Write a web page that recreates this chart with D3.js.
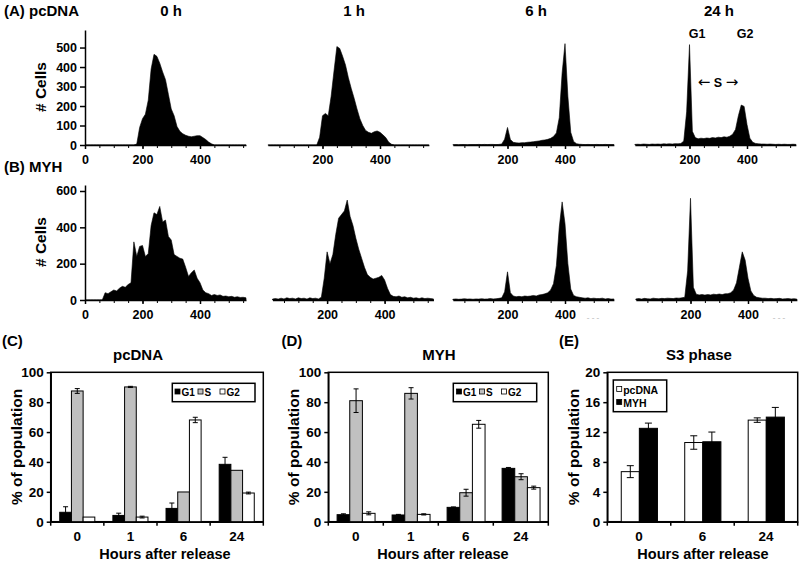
<!DOCTYPE html>
<html><head><meta charset="utf-8">
<script src="https://cdn.jsdelivr.net/npm/d3@7"></script>
<style>
body{margin:0;background:#fff;}
svg{display:block;font-family:"Liberation Sans",Arial,Helvetica,sans-serif;font-weight:bold;}
</style></head><body>
<svg id="c" width="800" height="563"></svg>
<script>
// ---------- Histogram data (channel bins, # cells) ----------
const channels = [0,10,20,30,40,50,60,70,80,90,100,110,120,130,140,150,160,170,180,190,200,210,220,230,240,250,260,270,280,290,300,310,320,330,340,350,360,370,380,390,400,410,420,430,440,450,460,470,480,490,500,510,520,530,540,550,560,570];
const histTimes = ["0 h","1 h","6 h","24 h"];
const pcDNA_0h = [0,0,0,0,0,0,0,0,0,0,0,0,0,0,0,0,0,0,5,90,135,158,230,390,465,455,420,375,335,260,185,150,95,70,58,50,45,42,45,48,48,38,28,15,6,0,0,0,0,0,0,0,0,0,0,0,0,0];
const pcDNA_1h = [0,0,0,0,0,0,0,0,0,0,0,0,0,0,0,0,0,0,0,40,150,162,150,250,380,505,495,455,410,345,290,240,185,135,100,75,65,60,68,72,65,52,38,15,4,0,0,0,0,0,0,0,0,0,0,0,0,0];
const pcDNA_6h = [0,1,2,1,2,2,1,2,2,2,3,2,3,2,3,3,2,3,5,30,90,28,14,11,10,12,12,14,15,17,19,21,24,26,29,34,44,62,140,370,520,250,65,18,7,4,3,2,3,2,2,3,2,2,3,2,2,2];
const pcDNA_24h = [0,3,4,3,5,4,3,5,4,5,4,6,5,6,5,7,6,8,20,170,515,70,38,32,35,33,36,34,38,36,40,38,42,40,45,55,80,150,205,198,105,35,14,8,6,5,5,4,5,4,3,4,3,4,3,3,4,3];
const MYH_0h = [0,0,0,0,0,0,0,40,35,45,55,50,65,75,70,85,95,320,240,295,300,240,255,410,480,470,515,430,440,350,330,250,240,230,225,180,130,150,165,120,95,55,40,35,25,30,25,28,20,22,18,20,15,18,14,15,12,10];
const MYH_1h = [0,5,8,5,10,6,12,8,10,6,12,8,10,5,12,8,10,6,15,120,265,200,250,360,450,470,490,550,460,410,340,280,230,180,140,125,115,120,125,135,110,65,30,20,18,22,15,18,12,15,10,12,8,12,8,10,8,6];
const MYH_6h = [0,4,6,4,5,7,5,6,4,6,5,7,5,6,8,6,7,9,12,45,155,40,22,18,20,18,22,20,22,25,22,28,30,34,40,55,90,190,400,540,420,200,60,25,18,15,12,10,12,8,10,8,8,10,6,8,5,6];
const MYH_24h = [0,6,8,5,9,7,6,10,8,7,9,8,10,9,8,11,10,12,15,160,560,70,32,28,30,27,30,28,32,30,33,30,34,35,40,55,95,180,265,220,120,50,25,15,12,10,10,8,9,7,8,9,6,7,8,6,7,5];
const histXTicks = [0,200,400];
const cellsTicksA = [0,100,200,300,400,500];
const cellsTicksB = [0,200,400,600];

// ---------- Bar data ----------
const hoursCD = ["0","1","6","24"];
const phases = ["G1","S","G2"];
const pc_G1 = [6.3,4.2,8.9,38.4],   pc_G1_err = [3.7,1.5,3.6,4.7];
const pc_S  = [87.5,90.2,19.9,34.4], pc_S_err  = [1.6,0.4,0,0];
const pc_G2 = [3.1,3.1,68.1,19.2],  pc_G2_err = [0,0.6,1.8,0.6];
const my_G1 = [4.7,4.5,9.6,35.7],   my_G1_err = [0.6,0.4,0.3,0.6];
const my_S  = [81.0,85.9,19.4,30.1], my_S_err = [7.9,3.8,2.3,2.0];
const my_G2 = [5.6,4.9,65.2,22.8],  my_G2_err = [1.0,0.4,2.6,1.0];
const hoursE = ["0","6","24"];
const s3Series = ["pcDNA","MYH"];
const s3_pc = [6.7,10.6,13.6], s3_pc_err = [0.8,0.9,0.3];
const s3_my = [12.5,10.7,14.0], s3_my_err = [0.7,1.3,1.3];
const pctTicks = [0,20,40,60,80,100];
const s3Ticks = [0,4,8,12,16,20];

const svg = d3.select("#c");

function txt(x,y,s,size,anchor){
  return svg.append("text").attr("x",x).attr("y",y).attr("font-size",size)
    .attr("text-anchor",anchor||"start").attr("fill","#000").text(s);
}
function styleAxis(g,fs){
  g.selectAll("path,line").attr("stroke","#000").attr("stroke-width",1.5);
  g.selectAll("text").attr("fill","#000").attr("font-size",fs)
    .attr("font-family",'"Liberation Sans",Arial,sans-serif').attr("font-weight","bold");
}

// ---------- Histograms ----------
const K = 161/560;
function hist(data, x0, yScale, start, end, showY, yTicks, showZero){
  const x = d3.scaleLinear().domain([start,end]).range([x0+start*K, x0+end*K]);
  const pts = channels.map((c,i)=>({c:c,v:data[i]})).filter(d=>d.c>=start && d.c<=end);
  const area = d3.area().x(d=>x(d.c)).y0(yScale(0)).y1(d=>yScale(d.v));
  svg.append("path").attr("d",area(pts)).attr("fill","#000").attr("stroke","#000").attr("stroke-width",0.6);
  const minor = d3.range(Math.ceil(start/50)*50, end+1, 50);
  const gm = svg.append("g").attr("transform",`translate(0,${yScale(0)})`)
    .call(d3.axisBottom(x).tickValues(minor).tickSize(3).tickSizeOuter(0).tickFormat(""));
  styleAxis(gm,12);
  gm.selectAll(".tick line").attr("stroke-width",1);
  const labs = histXTicks.filter(t=>showZero || t>0);
  const gl = svg.append("g").attr("transform",`translate(0,${yScale(0)})`)
    .call(d3.axisBottom(x).tickValues(labs).tickSize(4).tickPadding(6).tickSizeOuter(0));
  styleAxis(gl,12.5);
  gl.select(".domain").remove();
  if(showY){
    const gy = svg.append("g").attr("transform",`translate(${x0},0)`)
      .call(d3.axisLeft(yScale).tickValues(yTicks).tickSize(5).tickPadding(3).tickSizeOuter(0));
    styleAxis(gy,12.5);
  }
}
const yA = d3.scaleLinear().domain([0,590]).range([145,30]);
const yB = d3.scaleLinear().domain([0,633]).range([300,185]);
const zeroA = [85,265,450,632], zeroB = [85,269.6,450,633];
const rowA = [pcDNA_0h,pcDNA_1h,pcDNA_6h,pcDNA_24h];
const rowB = [MYH_0h,MYH_1h,MYH_6h,MYH_24h];
rowA.forEach((d,i)=>hist(d, zeroA[i], yA, i?10:0, i?570:560, i===0, cellsTicksA, i===0));
rowB.forEach((d,i)=>hist(d, zeroB[i], yB, i?10:0, i?570:560, i===0, cellsTicksB, i===0));

txt(4,16,"(A) pcDNA",15);
txt(4,172,"(B) MYH",15);
const timeX = [171,354,536,719];
histTimes.forEach((t,i)=>txt(timeX[i],16,t,15,"middle"));
txt(41,87,"# Cells",15.5,"middle").attr("transform","rotate(-90,41,87)").attr("dy","0.35em");
txt(41,242,"# Cells",15.5,"middle").attr("transform","rotate(-90,41,242)").attr("dy","0.35em");
txt(697,38,"G1",12.5,"middle");
txt(745,38,"G2",12.5,"middle");
const sLab = txt(718,87,"",12.5,"middle");
sLab.append("tspan").attr("font-family","'DejaVu Sans',sans-serif").attr("font-size",15).attr("font-weight","normal").text("\u2190");
sLab.append("tspan").text(" S ");
sLab.append("tspan").attr("font-family","'DejaVu Sans',sans-serif").attr("font-size",15).attr("font-weight","normal").text("\u2192");
txt(593,320,"- - -",8,"middle").attr("fill","#c8c8c8");
txt(779,320,"- - -",8,"middle").attr("fill","#c8c8c8");

// ---------- Bar panels ----------
function barPanel(c){
  const x = d3.scaleBand().domain(c.cats).range([c.left,c.right]);
  const x1 = d3.scaleBand().domain(c.series).range([x.bandwidth()*c.grp[0], x.bandwidth()*c.grp[1]]);
  const y = d3.scaleLinear().domain([0,c.yMax]).range([521.7,372.3]);
  svg.append("rect").attr("x",c.left).attr("y",y(c.yMax)).attr("width",c.right-c.left)
    .attr("height",y(0)-y(c.yMax)).attr("fill","none").attr("stroke","#000").attr("stroke-width",1.5);
  const gy = svg.append("g").attr("transform",`translate(${c.left},0)`)
    .call(d3.axisLeft(y).tickValues(c.ticks).tickSize(4).tickPadding(3).tickSizeOuter(0));
  styleAxis(gy,13.5);
  const gx = svg.append("g").attr("transform",`translate(0,${y(0)})`)
    .call(d3.axisBottom(x).tickSize(0).tickPadding(10));
  styleAxis(gx,13.5);
  const bounds = c.cats.map(k=>x(k)).concat([c.right]);
  svg.append("g").selectAll("line").data(bounds).join("line")
    .attr("x1",d=>d).attr("x2",d=>d).attr("y1",y(0)).attr("y2",y(0)+4)
    .attr("stroke","#000").attr("stroke-width",1.5);
  c.series.forEach((s,si)=>{
    const g = svg.append("g");
    c.cats.forEach((k,ci)=>{
      const v = c.vals[si][ci], e = c.errs[si][ci];
      const bx = x(k)+x1(s), bw = x1.bandwidth();
      g.append("rect").attr("x",bx).attr("y",y(v)).attr("width",bw).attr("height",y(0)-y(v))
        .attr("fill",c.colors[si]).attr("stroke","#000").attr("stroke-width",1);
      if(e>0){
        const cx = bx+bw/2, hw = c.capW/2;
        const eg = svg.append("g").attr("stroke","#000").attr("stroke-width",1);
        eg.append("line").attr("x1",cx).attr("x2",cx).attr("y1",y(v+e)).attr("y2",y(v-e));
        eg.append("line").attr("x1",cx-hw).attr("x2",cx+hw).attr("y1",y(v+e)).attr("y2",y(v+e));
        eg.append("line").attr("x1",cx-hw).attr("x2",cx+hw).attr("y1",y(v-e)).attr("y2",y(v-e));
      }
    });
  });
  txt(c.letterX,346,c.letter,15);
  txt(c.titleX,360,c.title,15,"middle");
  txt(c.xtX,559,"Hours after release",14.5,"middle");
  txt(c.ytX,447,"% of population",15.5,"middle").attr("transform",`rotate(-90,${c.ytX},447)`).attr("dy","0.35em");
  const L = c.legend;
  svg.append("rect").attr("x",L.x).attr("y",L.y).attr("width",L.w).attr("height",L.h)
    .attr("fill","#fff").attr("stroke","#000").attr("stroke-width",1.5);
  L.items.forEach((it,i)=>{
    svg.append("rect").attr("x",it[0]).attr("y",it[1]-7).attr("width",5).attr("height",5)
      .attr("fill",c.colors[i]).attr("stroke","#000").attr("stroke-width",0.8);
    txt(it[0]+6.5,it[1],c.series[i],c.legendFont);
  });
}

barPanel({cats:hoursCD, series:phases, colors:["#000","#c0c0c0","#fff"],
  vals:[pc_G1,pc_S,pc_G2], errs:[pc_G1_err,pc_S_err,pc_G2_err],
  left:50.7, right:263.3, yMax:100, ticks:pctTicks, grp:[0.17,0.83], capW:5,
  letter:"(C)", letterX:2, title:"pcDNA", titleX:138, xtX:165, ytX:17, legendFont:10,
  legend:{x:172.3,y:383.3,w:82.7,h:18.4,items:[[175,396],[198,396],[220,396]]}});

barPanel({cats:hoursCD, series:phases, colors:["#000","#c0c0c0","#fff"],
  vals:[my_G1,my_S,my_G2], errs:[my_G1_err,my_S_err,my_G2_err],
  left:328.3, right:548.3, yMax:100, ticks:pctTicks, grp:[0.16,0.85], capW:5,
  letter:"(D)", letterX:281.5, title:"MYH", titleX:439, xtX:443, ytX:293.3, legendFont:10,
  legend:{x:453.3,y:383.3,w:83.4,h:18.4,items:[[456.5,396],[479.5,396],[501.5,396]]}});

barPanel({cats:hoursE, series:s3Series, colors:["#fff","#000"],
  vals:[s3_pc,s3_my], errs:[s3_pc_err,s3_my_err],
  left:607.3, right:797.7, yMax:20, ticks:s3Ticks, grp:[0.22,0.79], capW:7,
  letter:"(E)", letterX:559, title:"S3 phase", titleX:699, xtX:703, ytX:573.3, legendFont:10.5,
  legend:{x:613.3,y:380,w:53.4,h:31.7,items:[[616.7,393.5],[616.7,406.5]]}});
</script>
</body></html>
